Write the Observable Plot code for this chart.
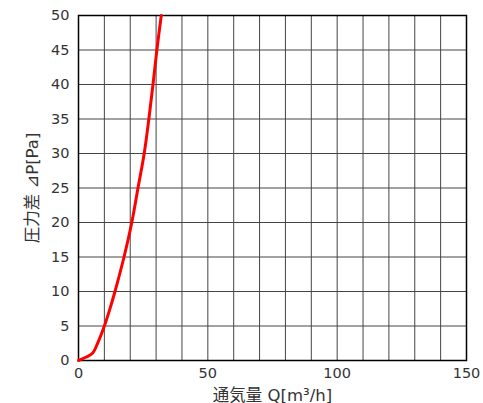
<!DOCTYPE html>
<html><head><meta charset="utf-8">
<script src="https://cdn.jsdelivr.net/npm/d3@7"></script>
<script src="https://cdn.jsdelivr.net/npm/@observablehq/plot@0.6"></script>
<style>body{margin:0;background:#fff;font-family:"DejaVu Sans","Noto Sans CJK JP",sans-serif}</style>
</head><body>
<div id="chart"></div>
<script>
const flow = [0, 3, 5.5, 7.5, 10, 12, 14.1, 17.6, 20.6, 23, 25.4, 27.2, 28.8, 30.3, 32];
const pressure = [0, 0.5, 1.1, 2.6, 5, 7.3, 10, 15, 20, 25, 30, 35, 40, 45, 50];
const xTicks = [0, 50, 100, 150];
const yTicks = [0, 5, 10, 15, 20, 25, 30, 35, 40, 45, 50];
const xGrid = d3.range(0, 151, 10);
const yGrid = d3.range(0, 51, 5);
const data = flow.map((q, i) => ({q, p: pressure[i]}));

const chart = Plot.plot({
  width: 483, height: 403,
  marginLeft: 78, marginRight: 17, marginTop: 15, marginBottom: 43,
  style: {fontFamily: '"DejaVu Sans","Noto Sans CJK JP",sans-serif', fontSize: "14.5px", color: "#333"},
  x: {domain: [0, 150], ticks: xTicks, tickSize: 0, tickPadding: 7, label: "通気量 Q[m³/h]", labelArrow: "none", labelAnchor: "center", labelOffset: 40},
  y: {domain: [0, 50], ticks: yTicks, tickSize: 0, tickPadding: 9, label: "圧力差 ⊿P[Pa]", labelArrow: "none", labelAnchor: "center", labelOffset: 52},
  marks: [
    Plot.ruleX(xGrid, {stroke: "#444", strokeWidth: 1}),
    Plot.ruleY(yGrid, {stroke: "#444", strokeWidth: 1}),
    Plot.frame({stroke: "#000", strokeWidth: 1.5}),
    Plot.line(data, {x: "q", y: "p", stroke: "#ff0000", strokeWidth: 3, curve: "catmull-rom"})
  ]
});
d3.select(chart).selectAll('g[aria-label="x-axis label"] text, g[aria-label="y-axis label"] text').style("font-size", "16.5px");
document.getElementById("chart").appendChild(chart);
</script>
</body></html>
